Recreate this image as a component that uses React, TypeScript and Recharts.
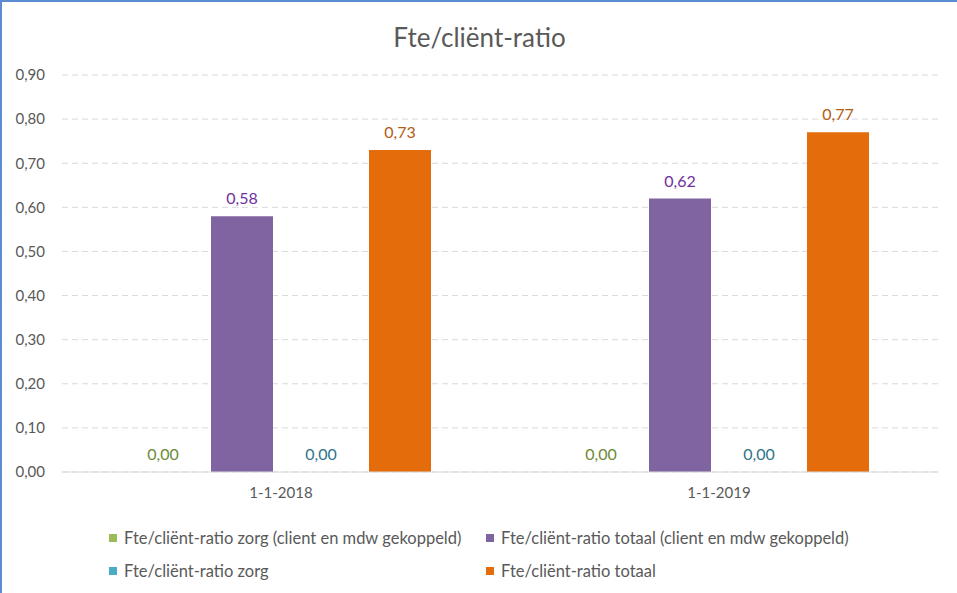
import React from "react";
import {
  BarChart,
  Bar,
  XAxis,
  YAxis,
  CartesianGrid,
  LabelList,
} from "recharts";

const categories = ["1-1-2018", "1-1-2019"];
const zorgGekoppeld = [0, 0];
const totaalGekoppeld = [0.58, 0.62];
const zorg = [0, 0];
const totaal = [0.73, 0.77];
const yTicks = [0, 0.1, 0.2, 0.3, 0.4, 0.5, 0.6, 0.7, 0.8, 0.9];

const series = [
  { key: "zorgGekoppeld", name: "Fte/cliënt-ratio zorg (client en mdw gekoppeld)", fill: "#9BBB59", label: "#6B8A34" },
  { key: "totaalGekoppeld", name: "Fte/cliënt-ratio totaal (client en mdw gekoppeld)", fill: "#8064A2", label: "#7030A0" },
  { key: "zorg", name: "Fte/cliënt-ratio zorg", fill: "#4BACC6", label: "#31748A" },
  { key: "totaal", name: "Fte/cliënt-ratio totaal", fill: "#E46C0A", label: "#B35C13" },
];

const data = categories.map((name, i) => ({
  name,
  zorgGekoppeld: zorgGekoppeld[i],
  totaalGekoppeld: totaalGekoppeld[i],
  zorg: zorg[i],
  totaal: totaal[i],
}));

const font = "Lato, 'Open Sans', sans-serif";
const fmt = (v: number) => Number(v).toFixed(2).replace(".", ",");

export default function App() {
  return (
    <div
      style={{
        position: "absolute",
        left: 0,
        top: 0,
        width: 957,
        height: 593,
        background: "#fff",
        fontFamily: font,
        borderTop: "2px solid #5B8BD0",
        borderLeft: "2px solid #5B8BD0",
        boxSizing: "border-box",
        overflow: "hidden",
      }}
    >
      <div
        style={{
          position: "absolute",
          top: 20,
          left: 0,
          width: 955,
          textAlign: "center",
          fontSize: 26,
          lineHeight: "30px",
          color: "#595959",
        }}
      >
        Fte/cliënt-ratio
      </div>
      <div style={{ position: "absolute", left: -2, top: -2 }}>
        <BarChart
          width={957}
          height={593}
          data={data}
          margin={{ top: 75, right: 19, bottom: 91, left: 0 }}
          barSize={62}
          barGap={17}
        >
          <CartesianGrid vertical={false} stroke="#D9D9D9" strokeDasharray="6 4" />
          <XAxis
            dataKey="name"
            axisLine={{ stroke: "#D9D9D9" }}
            tickLine={false}
            tickSize={0}
            tickMargin={15}
            height={30}
            tick={{ fill: "#595959", fontSize: 15, fontFamily: font }}
          />
          <YAxis
            domain={[0, 0.9]}
            ticks={yTicks}
            width={62}
            axisLine={false}
            tickLine={false}
            tickSize={0}
            tickMargin={17}
            tickFormatter={fmt}
            tick={{ fill: "#595959", fontSize: 15, fontFamily: font }}
          />
          {series.map((s) => (
            <Bar
              key={s.key}
              dataKey={s.key}
              name={s.name}
              fill={s.fill}
              minPointSize={0.01}
              isAnimationActive={false}
            >
              <LabelList
                dataKey={s.key}
                position="top"
                offset={12}
                formatter={(v: any) => fmt(v)}
                style={{ fill: s.label, fontSize: 16, fontFamily: font }}
              />
            </Bar>
          ))}
        </BarChart>
      </div>
      <div
        style={{
          position: "absolute",
          left: 107,
          top: 524,
          display: "grid",
          gridTemplateColumns: "377px 420px",
          rowGap: 10,
          fontSize: 16.5,
          color: "#595959",
        }}
      >
        {series.map((s) => (
          <div key={s.key} style={{ display: "flex", alignItems: "center", height: 23, whiteSpace: "nowrap" }}>
            <span
              style={{ width: 8, height: 8, flexShrink: 0, background: s.fill, marginRight: 7, display: "inline-block" }}
            />
            {s.name}
          </div>
        ))}
      </div>
    </div>
  );
}
